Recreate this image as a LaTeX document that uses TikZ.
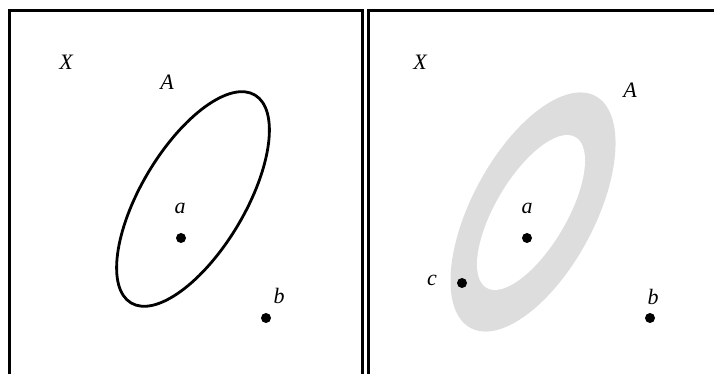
\documentclass[tikz,border=0pt]{standalone}
\usepackage{fontspec}
\setmainfont{Liberation Serif}
\definecolor{ringGray}{RGB}{221, 221, 221}

\begin{document}
\begin{tikzpicture}[x=1pt, y=1pt,
    lbl/.style={font=\fontsize{22}{26}\selectfont\itshape, inner sep=0pt},
    frame/.style={line width=3.2pt}]
      \useasboundingbox (0,0) rectangle (714,374);
      % left panel
      \draw[frame] (9.3,0) -- (9.3,363.3) -- (362.5,363.3) -- (362.5,0);
      \draw[line width=2.8pt, rotate around={59.2:(193,175)}]
        (193,175) ellipse [x radius=121, y radius=52];
      \node[lbl] (lX) at (66,312) {X};
      \node[lbl] (lA) at (167,292) {A};
      \coordinate (la) at (181,136);
      \coordinate (lb) at (266,56);
      \fill (la) circle (5) node[lbl] (lalab) at (180,166) {a};
      \fill (lb) circle (5) node[lbl] (lblab) at (279,78) {b};
      % right panel
      \draw[frame] (368.5,0) -- (368.5,363.3) -- (720,363.3);
      \fill[ringGray, rotate around={61.7:(533,162)}]
        (533,162) ellipse [x radius=131.7, y radius=61.3];
      \fill[white, rotate around={59.4:(531,161.5)}]
        (531,161.5) ellipse [x radius=87.5, y radius=35.5];
      \node[lbl] (rX) at (420,312) {X};
      \node[lbl] (rA) at (630,284) {A};
      \coordinate (ra) at (527,136);
      \coordinate (rb) at (650,56);
      \coordinate (rc) at (462,91);
      \fill (ra) circle (5) node[lbl] (ralab) at (527,166) {a};
      \fill (rb) circle (5) node[lbl] (rblab) at (653,77) {b};
      \fill (rc) circle (5) node[lbl] (rclab) at (432,94) {c};
    \end{tikzpicture}
\end{document}
